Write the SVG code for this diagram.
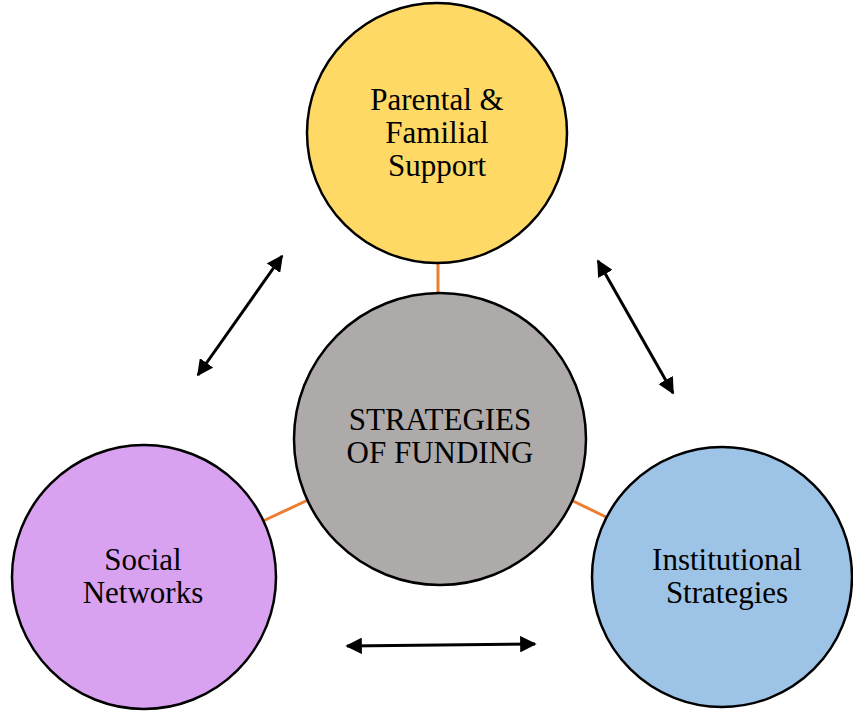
<svg xmlns="http://www.w3.org/2000/svg" width="853" height="713" viewBox="0 0 853 713">
<style>
.node{stroke:#000;stroke-width:2.5}
.lbl{font-family:"Liberation Serif","Times New Roman",serif;font-size:31px;fill:#000;text-anchor:middle}
.link{stroke:#ED7D31;stroke-width:3}
.arr{stroke:#000;stroke-width:3;marker-start:url(#ah);marker-end:url(#ah)}
</style>
<defs>
<marker id="ah" viewBox="0 0 10 10" refX="9" refY="5" markerWidth="5.5" markerHeight="5.5" orient="auto-start-reverse" markerUnits="strokeWidth">
<path d="M0,0 L10,5 L0,10 z" fill="#000"/>
</marker>
</defs>
<rect width="853" height="713" fill="#fff"/>
<g id="connectors">
<line class="link" x1="438" y1="262" x2="438" y2="294"/>
<line class="link" x1="263" y1="521" x2="308" y2="500"/>
<line class="link" x1="571" y1="500" x2="606" y2="517"/>
<line class="arr" x1="198" y1="375" x2="282" y2="256"/>
<line class="arr" x1="598" y1="261" x2="673" y2="393"/>
<line class="arr" x1="347" y1="646" x2="535" y2="644"/>
</g>
<g id="parental">
<circle class="node" cx="437" cy="133" r="130" fill="#FFD966"/>
<text class="lbl" x="437" y="110">Parental &amp;</text>
<text class="lbl" x="437" y="143">Familial</text>
<text class="lbl" x="437" y="176">Support</text>
</g>
<g id="center">
<circle class="node" cx="440" cy="439" r="146" fill="#AEAAAA"/>
<text class="lbl" x="440" y="430">STRATEGIES</text>
<text class="lbl" x="440" y="463">OF FUNDING</text>
</g>
<g id="social">
<circle class="node" cx="144" cy="577" r="132" fill="#D9A2F0"/>
<text class="lbl" x="143" y="570">Social</text>
<text class="lbl" x="143" y="603">Networks</text>
</g>
<g id="institutional">
<circle class="node" cx="722" cy="577" r="130" fill="#9DC3E6"/>
<text class="lbl" x="727" y="570">Institutional</text>
<text class="lbl" x="727" y="603">Strategies</text>
</g>
</svg>
